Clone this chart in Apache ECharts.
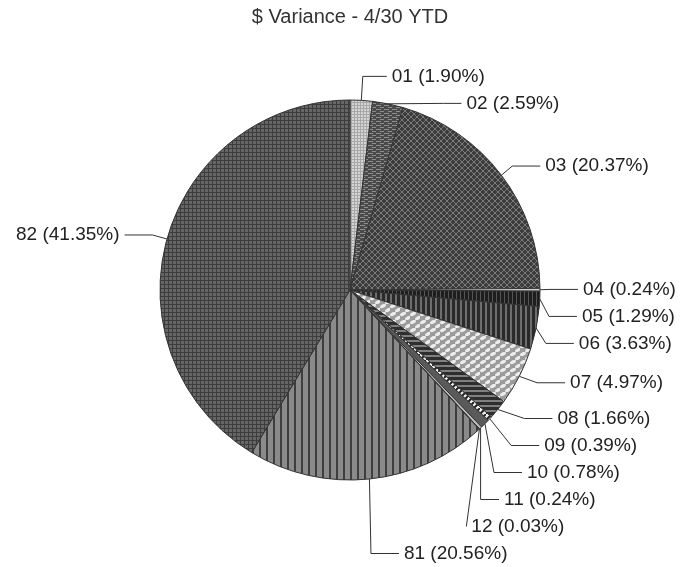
<!DOCTYPE html>
<html>
<head>
<meta charset="utf-8">
<script src="https://cdn.jsdelivr.net/npm/echarts@6/dist/echarts.min.js"></script>
<style>
  html, body { margin: 0; padding: 0; background: #fff; }
  #chart { width: 700px; height: 567px; }
</style>
</head>
<body>
<div id="chart"></div>
<script>
// data
var categories = ["01", "02", "03", "04", "05", "06", "07", "08", "09", "10", "11", "12", "81", "82"];
var shares = [1.90, 2.59, 20.37, 0.24, 1.29, 3.63, 4.97, 1.66, 0.39, 0.78, 0.24, 0.03, 20.56, 41.35];

// small canvas tiles to mimic the hatch fills
function tile(w, h, bg, draw) {
  var c = document.createElement("canvas");
  c.width = w;
  c.height = h;
  var ctx = c.getContext("2d");
  ctx.fillStyle = bg;
  ctx.fillRect(0, 0, w, h);
  if (draw) draw(ctx);
  return { image: c, repeat: "repeat" };
}

var fills = {
  "01": tile(3, 3, "#d4d4d4", function (ctx) {
    ctx.fillStyle = "#a8a8a8";
    ctx.fillRect(0, 0, 3, 1);
    ctx.fillRect(0, 0, 1, 3);
  }),
  "02": tile(8, 4, "#4a4a4a", function (ctx) {
    ctx.fillStyle = "#8e8e8e";
    ctx.fillRect(0, 1, 5, 1);
    ctx.fillRect(4, 3, 5, 1);
  }),
  "03": tile(6, 6, "#3c3c3c", function (ctx) {
    ctx.strokeStyle = "#7a7a7a";
    ctx.lineWidth = 1;
    ctx.beginPath();
    ctx.moveTo(0, 0); ctx.lineTo(6, 6);
    ctx.moveTo(6, 0); ctx.lineTo(0, 6);
    ctx.stroke();
  }),
  "04": tile(2, 2, "#cfcfcf"),
  "05": tile(4, 4, "#1e1e1e", function (ctx) {
    ctx.fillStyle = "#555";
    ctx.fillRect(0, 0, 1, 4);
  }),
  "06": tile(5, 5, "#2a2a2a", function (ctx) {
    ctx.fillStyle = "#6e6e6e";
    ctx.fillRect(0, 0, 2, 5);
  }),
  "07": tile(10, 8, "#9a9a9a", function (ctx) {
    ctx.fillStyle = "#ececec";
    ctx.beginPath();
    ctx.ellipse(3, 2, 3.2, 1.8, -0.5, 0, Math.PI * 2);
    ctx.ellipse(8, 6, 3.2, 1.8, -0.5, 0, Math.PI * 2);
    ctx.fill();
  }),
  "08": tile(4, 5, "#2e2e2e", function (ctx) {
    ctx.fillStyle = "#808080";
    ctx.fillRect(0, 0, 4, 2);
  }),
  "09": tile(6, 6, "#f0f0f0", function (ctx) {
    ctx.strokeStyle = "#222";
    ctx.lineWidth = 2;
    ctx.beginPath();
    ctx.moveTo(0, 6); ctx.lineTo(6, 0);
    ctx.stroke();
  }),
  "10": tile(2, 2, "#5a5a5a"),
  "11": tile(2, 2, "#bdbdbd"),
  "12": tile(2, 2, "#333"),
  "81": tile(7, 4, "#8a8a8a", function (ctx) {
    ctx.fillStyle = "#3e3e3e";
    ctx.fillRect(0, 0, 2, 4);
  }),
  "82": tile(4, 4, "#666666", function (ctx) {
    ctx.fillStyle = "#3c3c3c";
    ctx.fillRect(0, 0, 4, 1);
    ctx.fillRect(0, 0, 1, 4);
  })
};

// leader line tweaks for the two thin slices at the top
var lineLengths = {
  "01": { length: 24, length2: 24 },
  "02": { length: 10, length2: 18 }
};

var pieData = categories.map(function (name, i) {
  var item = { name: name, value: shares[i], itemStyle: { color: fills[name] } };
  if (lineLengths[name]) item.labelLine = lineLengths[name];
  return item;
});

var chart = echarts.init(document.getElementById("chart"));
chart.setOption({
  animation: false,
  backgroundColor: "#fff",
  title: {
    text: "$ Variance - 4/30 YTD",
    left: "center",
    top: 2,
    textStyle: {
      fontFamily: "Liberation Sans",
      fontSize: 20,
      fontWeight: "normal",
      color: "#333"
    }
  },
  series: [
    {
      type: "pie",
      center: [350, 290],
      radius: 190,
      startAngle: 90,
      clockwise: true,
      avoidLabelOverlap: true,
      data: pieData,
      itemStyle: {
        borderColor: "#333",
        borderWidth: 1
      },
      label: {
        formatter: function (p) {
          return p.name + " (" + p.value.toFixed(2) + "%)";
        },
        fontFamily: "Liberation Sans",
        fontSize: 19,
        lineHeight: 25,
        color: "#222",
        alignTo: "none"
      },
      labelLine: {
        show: true,
        length: 15,
        length2: 28,
        lineStyle: { color: "#333", width: 1 }
      },
      emphasis: { disabled: true }
    }
  ]
});
</script>
</body>
</html>
